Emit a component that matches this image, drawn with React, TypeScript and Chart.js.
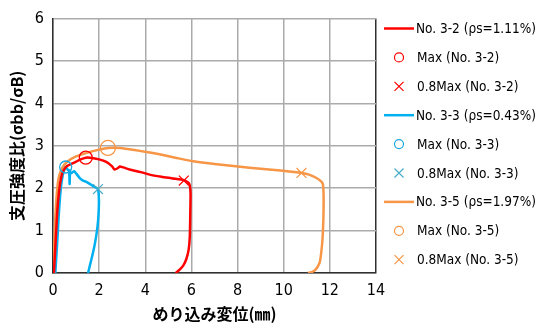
import React, { useEffect, useRef } from "react";
import { Chart, registerables } from "chart.js";

Chart.register(...registerables);

// No.3-2 (red)
const s32X = [0.04, 0.1, 0.18, 0.28, 0.4, 0.58, 0.87, 1.2, 1.42, 1.6, 2.0, 2.31, 2.55, 2.67, 2.8, 2.89, 3.05, 3.32, 3.8, 4.19, 4.7, 5.2, 5.67, 5.9, 5.96, 5.95, 5.93, 5.88, 5.78, 5.65, 5.49, 5.32];
const s32Y = [0.0, 0.6, 1.4, 2.0, 2.35, 2.51, 2.59, 2.68, 2.72, 2.72, 2.68, 2.62, 2.52, 2.44, 2.47, 2.51, 2.49, 2.44, 2.38, 2.32, 2.27, 2.23, 2.19, 2.11, 1.9, 1.4, 0.86, 0.55, 0.33, 0.18, 0.08, 0.0];
// No.3-3 (blue)
const s33X = [0.1, 0.18, 0.26, 0.34, 0.42, 0.5, 0.55, 0.62, 0.67, 0.7, 0.72, 0.74, 0.78, 0.85, 0.92, 1.0, 1.16, 1.3, 1.45, 1.65, 1.8, 1.95, 1.99, 1.97, 1.93, 1.88, 1.8, 1.7, 1.6, 1.52];
const s33Y = [0.0, 0.7, 1.45, 2.0, 2.3, 2.45, 2.5, 2.45, 2.42, 2.42, 2.1, 2.38, 2.35, 2.38, 2.4, 2.35, 2.24, 2.18, 2.15, 2.08, 2.03, 1.98, 1.71, 1.35, 1.1, 0.9, 0.65, 0.4, 0.18, 0.0];
// No.3-5 (orange)
const s35X = [0.0, 0.05, 0.1, 0.17, 0.25, 0.4, 0.6, 1.0, 1.5, 2.0, 2.38, 2.9, 3.3, 3.76, 4.2, 4.62, 5.3, 6.0, 7.0, 8.02, 9.0, 9.97, 10.77, 11.1, 11.42, 11.62, 11.7, 11.73, 11.72, 11.68, 11.62, 11.56, 11.45, 11.34, 11.2, 11.05];
const s35Y = [0.0, 0.6, 1.3, 1.9, 2.25, 2.48, 2.62, 2.75, 2.84, 2.91, 2.95, 2.95, 2.92, 2.88, 2.84, 2.8, 2.72, 2.64, 2.57, 2.51, 2.46, 2.41, 2.36, 2.32, 2.24, 2.16, 2.09, 1.78, 1.3, 0.79, 0.45, 0.25, 0.13, 0.06, 0.02, 0.0];

const maxX = [1.42, 0.55, 2.38];
const maxY = [2.72, 2.5, 2.95];
const m08X = [5.67, 1.95, 10.77];
const m08Y = [2.18, 1.98, 2.36];

const lineColors = ["#ff0000", "#00b0f0", "#f79646"];
const circleColors = ["#ff0000", "#1aa7e0", "#f79646"];
const crossColors = ["#ff0000", "#4bacc6", "#f79646"];
const circleRadius = [6.5, 6, 7.5];

const seriesLabels = [
  "No. 3-2 (ρs=1.11%)",
  "Max (No. 3-2)",
  "0.8Max (No. 3-2)",
  "No. 3-3 (ρs=0.43%)",
  "Max (No. 3-3)",
  "0.8Max (No. 3-3)",
  "No. 3-5 (ρs=1.97%)",
  "Max (No. 3-5)",
  "0.8Max (No. 3-5)",
];

const xTicks = [0, 2, 4, 6, 8, 10, 12, 14];
const yTicks = [0, 1, 2, 3, 4, 5, 6];
const xTitle = "めり込み変位(㎜)";
const yTitle = "支圧強度比(σbb/σB)";

const NARROW = "'Liberation Sans Narrow', 'DejaVu Sans Condensed', 'Noto Sans CJK JP', sans-serif";
const JP = "'Noto Sans CJK JP', sans-serif";

function pts(xs: number[], ys: number[]) {
  return xs.map((x, i) => ({ x, y: ys[i] }));
}

const legendPlugin = {
  id: "customLegend",
  afterDraw(chart: any) {
    const ctx = chart.ctx;
    ctx.save();
    const x0 = 384;
    const textX = 416;
    const y0 = 28.5;
    const dy = 28.9;
    ctx.font = "13.5px " + NARROW;
    ctx.textBaseline = "middle";
    ctx.textAlign = "left";
    seriesLabels.forEach((lab, i) => {
      const y = y0 + i * dy;
      const s = Math.floor(i / 3);
      const kind = i % 3;
      if (kind === 0) {
        ctx.strokeStyle = lineColors[s];
        ctx.lineWidth = 2.5;
        ctx.beginPath();
        ctx.moveTo(x0, y);
        ctx.lineTo(x0 + 30, y);
        ctx.stroke();
      } else if (kind === 1) {
        ctx.strokeStyle = circleColors[s];
        ctx.lineWidth = 1.2;
        ctx.beginPath();
        ctx.arc(399, y, 4.5, 0, Math.PI * 2);
        ctx.stroke();
      } else {
        ctx.strokeStyle = crossColors[s];
        ctx.lineWidth = 1.2;
        ctx.beginPath();
        ctx.moveTo(394.5, y - 4.5);
        ctx.lineTo(403.5, y + 4.5);
        ctx.moveTo(403.5, y - 4.5);
        ctx.lineTo(394.5, y + 4.5);
        ctx.stroke();
      }
      ctx.fillStyle = "#000";
      ctx.fillText(lab, kind === 0 ? textX : textX + 1, y + 1);
    });
    ctx.restore();
  },
};

export default function App() {
  const ref = useRef<HTMLCanvasElement | null>(null);
  useEffect(() => {
    if (!ref.current) return;
    const datasets: any[] = [];
    const lines = [pts(s32X, s32Y), pts(s33X, s33Y), pts(s35X, s35Y)];
    for (let s = 0; s < 3; s++) {
      datasets.push({
        label: seriesLabels[s * 3],
        data: lines[s],
        showLine: true,
        borderColor: lineColors[s],
        backgroundColor: lineColors[s],
        borderWidth: 2.5,
        pointRadius: 0,
        tension: 0.2,
        order: 5,
      });
    }
    for (let s = 0; s < 3; s++) {
      datasets.push({
        label: seriesLabels[s * 3 + 1],
        data: [{ x: maxX[s], y: maxY[s] }],
        showLine: false,
        pointStyle: "circle",
        pointRadius: circleRadius[s],
        borderColor: circleColors[s],
        backgroundColor: "rgba(0,0,0,0)",
        pointBorderWidth: 1.3,
        order: 1,
      });
      datasets.push({
        label: seriesLabels[s * 3 + 2],
        data: [{ x: m08X[s], y: m08Y[s] }],
        showLine: false,
        pointStyle: "crossRot",
        pointRadius: 7,
        borderColor: crossColors[s],
        backgroundColor: crossColors[s],
        pointBorderWidth: 1.2,
        order: 1,
      });
    }
    const chart = new Chart(ref.current, {
      type: "scatter",
      data: { datasets },
      plugins: [legendPlugin],
      options: {
        animation: false,
        responsive: false,
        maintainAspectRatio: false,
        layout: { padding: { left: 0, right: 163, top: 13, bottom: 0 } },
        plugins: { legend: { display: false }, tooltip: { enabled: false } },
        scales: {
          x: {
            type: "linear",
            min: 0,
            max: 14,
            afterFit: (scale: any) => {
              scale.height = 56;
            },
            afterBuildTicks: (scale: any) => {
              scale.ticks = xTicks.map((v) => ({ value: v }));
            },
            grid: {
              color: (c: any) => (c.tick && c.tick.value === 14 ? "#303030" : "#ababab"),
              lineWidth: 1.5,
              drawTicks: false,
            },
            border: { color: "#303030", width: 1.5 },
            ticks: {
              padding: 8,
              color: "#000",
              font: { family: NARROW, size: 16 },
              maxRotation: 0,
            },
            title: {
              display: true,
              text: xTitle,
              color: "#000",
              font: { family: JP, size: 16, weight: "bold" },
              padding: { top: 0, bottom: 5 },
            },
          },
          y: {
            type: "linear",
            min: 0,
            max: 6,
            afterFit: (scale: any) => {
              scale.width = 53;
            },
            afterBuildTicks: (scale: any) => {
              scale.ticks = yTicks.map((v) => ({ value: v }));
            },
            grid: {
              color: "#ababab",
              lineWidth: 1.5,
              drawTicks: false,
            },
            border: { color: "#303030", width: 1.5 },
            ticks: {
              padding: 9,
              color: "#000",
              font: { family: NARROW, size: 16 },
            },
            title: {
              display: true,
              text: yTitle,
              color: "#000",
              font: { family: JP, size: 16, weight: "bold" },
              padding: { top: 7, bottom: 0 },
            },
          },
        },
      },
    });
    return () => chart.destroy();
  }, []);
  return (
    <div style={{ position: "fixed", left: 0, top: 0, width: 539, height: 329, background: "#fff" }}>
      <canvas ref={ref} width={539} height={329} style={{ width: 539, height: 329 }} />
    </div>
  );
}
